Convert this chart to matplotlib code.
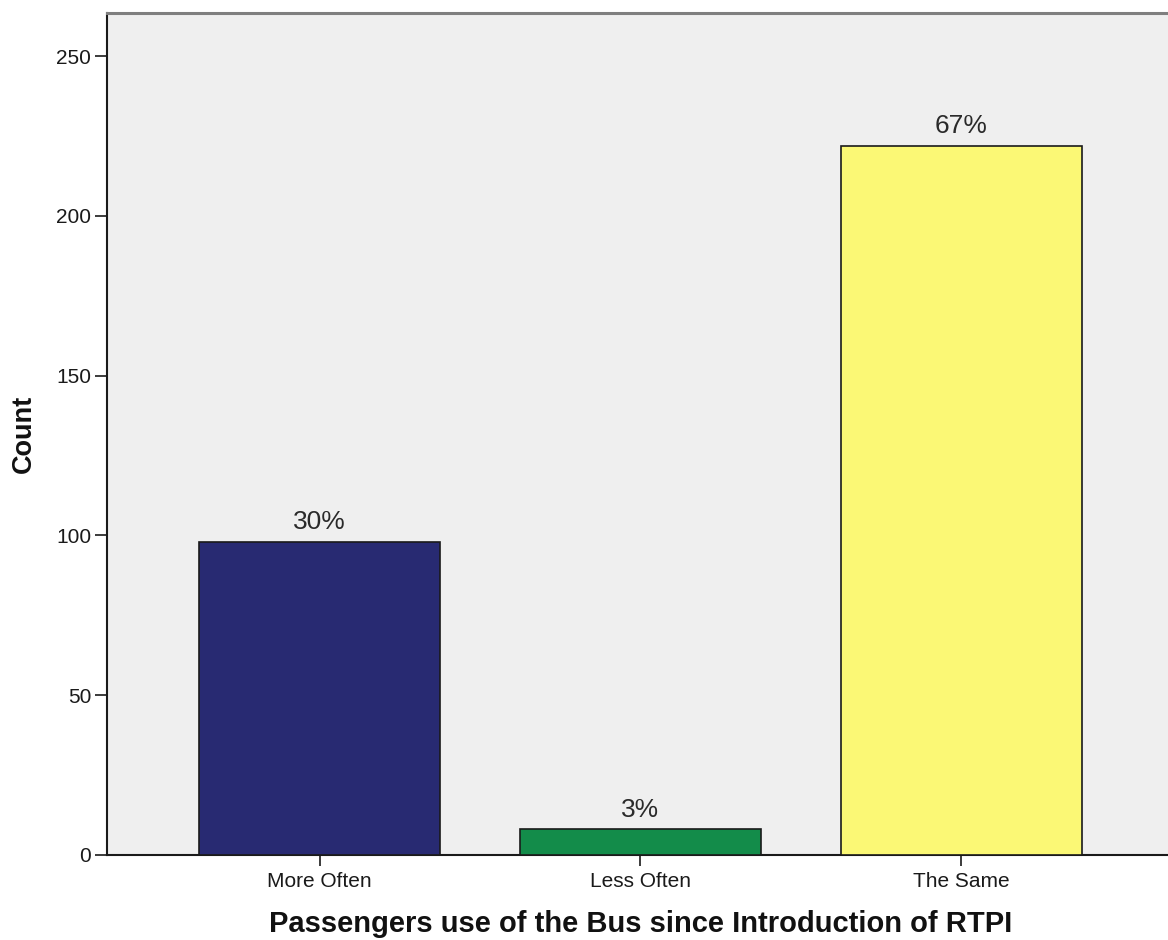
import matplotlib
matplotlib.use("Agg")
import matplotlib.pyplot as plt

categories = ["More Often", "Less Often", "The Same"]
counts = [98, 8, 222]
pct_labels = ["30%", "3%", "67%"]
bar_colors = ["#282a72", "#138c4a", "#fbf875"]
yticks = [0, 50, 100, 150, 200, 250]

plt.rcParams['font.family'] = ['Liberation Sans', 'DejaVu Sans']

fig = plt.figure(figsize=(11.68, 9.40), dpi=100)
W, H = 1168, 940
left_px, right_px, top_px, bottom_px = 106.5, 1174.5, 13, 855
ax = fig.add_axes([left_px / W, 1 - bottom_px / H, (right_px - left_px) / W, (bottom_px - top_px) / H])
ax.set_facecolor("#efefef")

x = list(range(len(categories)))
bars = ax.bar(x, counts, width=0.75, color=bar_colors, edgecolor="#1a1a1a", linewidth=1.2, zorder=3)
for xi, c, lab in zip(x, counts, pct_labels):
    ax.annotate(lab, (xi, c), xytext=(0, 9), textcoords="offset points",
                ha="center", va="baseline", fontsize=19, color="#2a2a2a")

ax.set_xlim(-0.6636, 2.6636)
ax.set_ylim(0, 263.5)
ax.set_yticks(yticks)
ax.set_yticklabels([str(v) for v in yticks])
ax.set_xticks(x)
ax.set_xticklabels(categories)

ax.tick_params(axis='y', direction='out', length=9, width=1.2, colors="#1a1a1a", labelsize=15, labelcolor="#1a1a1a", pad=2)
ax.tick_params(axis='x', direction='out', length=8, width=1.2, colors="#1a1a1a", labelsize=15, labelcolor="#1a1a1a", pad=4)

ax.spines['left'].set_color("#1a1a1a")
ax.spines['left'].set_linewidth(1.5)
ax.spines['bottom'].set_color("#1a1a1a")
ax.spines['bottom'].set_linewidth(1.5)
ax.spines['top'].set_color("#7f7f7f")
ax.spines['top'].set_linewidth(2.2)
ax.spines['right'].set_visible(False)

ax.set_ylabel("Count", fontsize=19.5, fontweight="bold", labelpad=14, color="#111111")
ax.set_xlabel("Passengers use of the Bus since Introduction of RTPI", fontsize=21, fontweight="bold",
              labelpad=14, color="#111111")

fig.savefig("out.png", dpi=100)
